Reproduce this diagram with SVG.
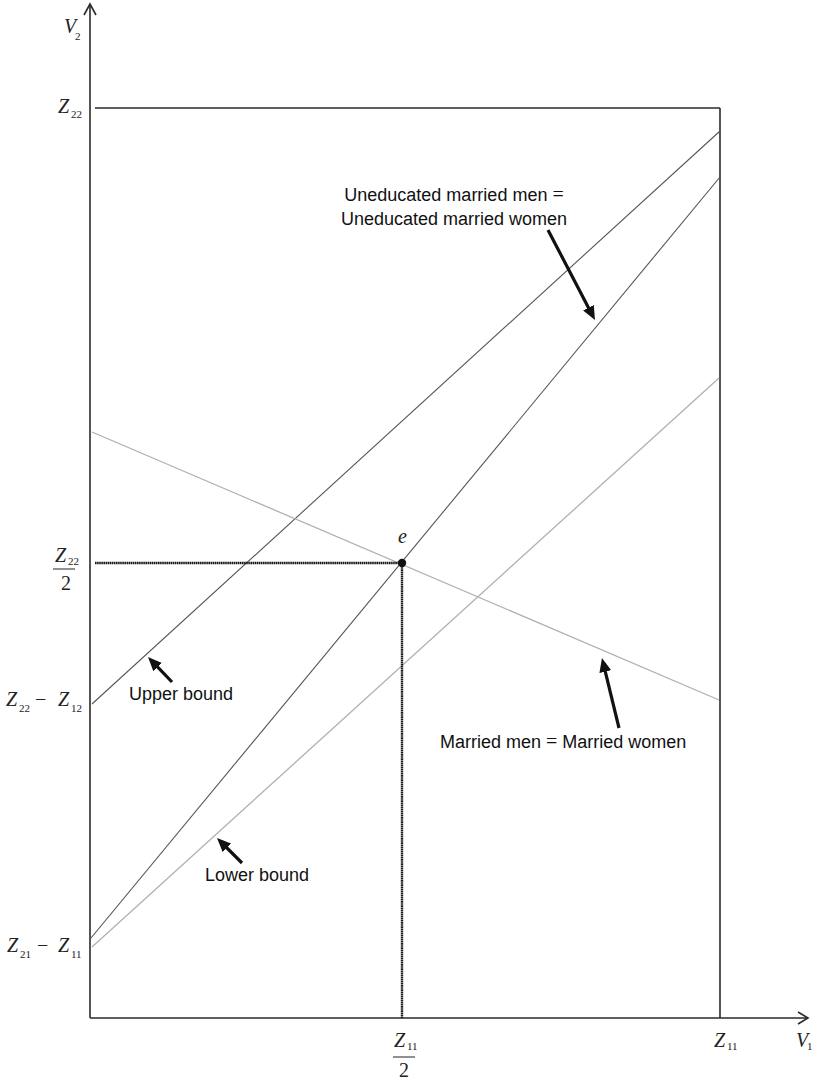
<svg xmlns="http://www.w3.org/2000/svg" width="814" height="1082" viewBox="0 0 814 1082">
<defs>
<style>
.ax{stroke:#2a2a2a;stroke-width:1.6;fill:none}
.dk{stroke:#555;stroke-width:1.1;fill:none}
.gr{stroke:#b0b0b0;stroke-width:1.3;fill:none}
.dot{stroke:#1a1a1a;stroke-width:2.4;stroke-dasharray:1.6 0.5;fill:none}
.ar{stroke:#111;stroke-width:3.2;fill:none;marker-end:url(#ah)}
.m{font-family:"Liberation Serif","Times New Roman",serif;font-style:italic;font-size:20px;fill:#222}
.s{font-family:"Liberation Serif","Times New Roman",serif;font-size:11px;fill:#222}
.n{font-family:"Liberation Serif","Times New Roman",serif;font-size:20px;fill:#222}
.t{font-family:"Liberation Sans",Arial,sans-serif;font-size:18px;fill:#111}
.eq{font-family:"Liberation Serif","Times New Roman",serif;font-size:20px}
</style>
<marker id="ah" markerUnits="userSpaceOnUse" markerWidth="14" markerHeight="12" refX="2" refY="6" orient="auto">
<path d="M0,0 L14,6 L0,12 z" fill="#111"/>
</marker>
</defs>
<g id="axes">
<line class="ax" x1="90" y1="1018" x2="90" y2="4"/>
<polyline class="ax" points="84,15 90,4 96,15"/>
<line class="ax" x1="90" y1="1018" x2="808" y2="1018"/>
<polyline class="ax" points="798,1012 808,1018 798,1024"/>
<line class="ax" x1="95" y1="108" x2="720" y2="108"/>
<line class="ax" x1="720" y1="108" x2="720" y2="1018"/>
</g>
<g id="curves">
<line id="upper-bound" class="dk" x1="92" y1="704" x2="720" y2="131"/>
<line id="uneducated" class="dk" x1="91" y1="938" x2="720" y2="177"/>
<line id="lower-bound" class="gr" x1="92" y1="947" x2="719" y2="378"/>
<line id="married" class="gr" x1="92" y1="432" x2="719" y2="700"/>
<line class="dot" x1="95" y1="563" x2="402" y2="563"/>
<line class="dot" x1="402" y1="563" x2="402" y2="1018"/>
</g>
<g id="point-e">
<circle cx="402" cy="563" r="4.2" fill="#111"/>
<text class="m" x="398" y="543">e</text>
</g>
<g id="connectors">
<line class="ar" x1="548" y1="230" x2="589.4" y2="309.4"/>
<line class="ar" x1="172" y1="682" x2="156.3" y2="665.7"/>
<line class="ar" x1="242" y1="863" x2="225.5" y2="846.5"/>
<line class="ar" x1="619" y1="728" x2="604.8" y2="669.7"/>
</g>
<g id="labels">
<g id="label-uneducated">
<text class="t" x="454" y="201" text-anchor="middle">Uneducated married men <tspan class="eq">=</tspan></text>
<text class="t" x="454" y="225" text-anchor="middle">Uneducated married women</text>
</g>
<text id="label-upper" class="t" x="129" y="700">Upper bound</text>
<text id="label-lower" class="t" x="205" y="881">Lower bound</text>
<text id="label-married" class="t" x="440" y="748">Married men <tspan class="eq">=</tspan> Married women</text>
</g>
<g id="axis-labels">
<text class="m" x="64" y="33">V</text><text class="s" x="75" y="40">2</text>
<text class="m" x="58" y="113">Z</text><text class="s" x="71" y="118">22</text>
<text class="m" x="55" y="562">Z</text><text class="s" x="68" y="565">22</text>
<line x1="53" y1="569" x2="75" y2="569" stroke="#222" stroke-width="1"/>
<text class="n" x="61" y="590">2</text>
<text class="m" x="6" y="706">Z</text><text class="s" x="19" y="712">22</text>
<text class="n" x="35" y="706">−</text>
<text class="m" x="58" y="706">Z</text><text class="s" x="71" y="712">12</text>
<text class="m" x="7" y="952">Z</text><text class="s" x="20" y="958">21</text>
<text class="n" x="37" y="952">−</text>
<text class="m" x="58" y="952">Z</text><text class="s" x="71" y="958">11</text>
<text class="m" x="394" y="1047">Z</text><text class="s" x="407" y="1050">11</text>
<line x1="393" y1="1057" x2="415" y2="1057" stroke="#222" stroke-width="1"/>
<text class="n" x="399" y="1077">2</text>
<text class="m" x="714" y="1047">Z</text><text class="s" x="727" y="1050">11</text>
<text class="m" x="796" y="1047">V</text><text class="s" x="807" y="1050">1</text>
</g>
</svg>
